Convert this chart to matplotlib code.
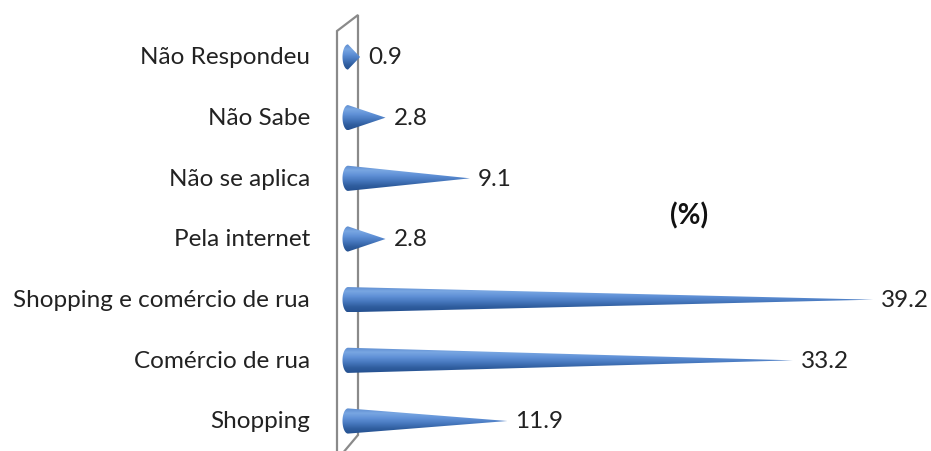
import numpy as np
import matplotlib
matplotlib.use("Agg")
import matplotlib.pyplot as plt
from matplotlib.path import Path
from matplotlib.patches import PathPatch, Polygon
from matplotlib.colors import LinearSegmentedColormap

plt.rcParams["font.family"] = ["Lato", "DejaVu Sans"]

# bottom to top, as in the chart
categories = ["Shopping", "Comércio de rua", "Shopping e comércio de rua",
              "Pela internet", "Não se aplica", "Não Sabe", "Não Respondeu"]
values = [11.9, 33.2, 39.2, 2.8, 9.1, 2.8, 0.9]
value_labels = ["11.9", "33.2", "39.2", "2.8", "9.1", "2.8", "0.9"]
unit_label = "(%)"

W, H = 931, 452
X0, XS = 348.0, 13.4      # pixel of value 0, pixels per unit
Y0, YS = 30.0, 60.67      # pixel (from bottom) of first category, spacing

fig = plt.figure(figsize=(W / 100, H / 100), dpi=100)
ax = fig.add_axes([0, 0, 1, 1])
ax.axis("off")

# 3D side wall (thin panel behind the cones)
def px(x, y_top):
    return ((x - X0) / XS, ((H - y_top) - Y0) / YS)

wall = Polygon([px(337, 32), px(358, 16), px(358, 436), px(342, 455), px(337, 455)],
               closed=True, facecolor="white", edgecolor="#8a8a8a", lw=1.6, zorder=1)
ax.add_patch(wall)

cone_cmap = LinearSegmentedColormap.from_list(
    "cone", ["#24508f", "#2f5d9e", "#4677bd", "#5f90d6", "#78a6e2", "#5c8bce"])

half_h = 12.6 / YS
base_a = 5.5 / XS
grad = np.linspace(0, 1, 256).reshape(-1, 1)

for i, (v, lab) in enumerate(zip(values, value_labels)):
    t = np.linspace(0, np.pi, 40)
    arc = np.column_stack([-base_a * np.sin(t), i + half_h * np.cos(t)])
    verts = np.vstack([[[v, i]], [[0, i + half_h]], arc, [[0, i - half_h]], [[v, i]]])
    patch = PathPatch(Path(verts, closed=True), facecolor="none", edgecolor="none")
    ax.add_patch(patch)
    im = ax.imshow(grad, cmap=cone_cmap, aspect="auto", origin="lower",
                   extent=[-base_a, v, i - half_h, i + half_h], zorder=3,
                   interpolation="bilinear")
    im.set_clip_path(patch)
    ax.text(v + 8 / XS, i, lab, ha="left", va="center", fontsize=17.5,
            color="#222222", zorder=4)
    ax.text((310 - X0) / XS, i, categories[i], ha="right", va="center",
            fontsize=17.5, color="#222222", zorder=4)

ax.set_xlim(-X0 / XS, (W - X0) / XS)
ax.set_ylim(-Y0 / YS, (H - Y0) / YS)

fig.text(689 / W, 1 - 216 / H, unit_label, ha="center", va="center",
         fontsize=20, fontweight="bold", color="#111111")

fig.savefig("out.png", dpi=100, facecolor="white")
